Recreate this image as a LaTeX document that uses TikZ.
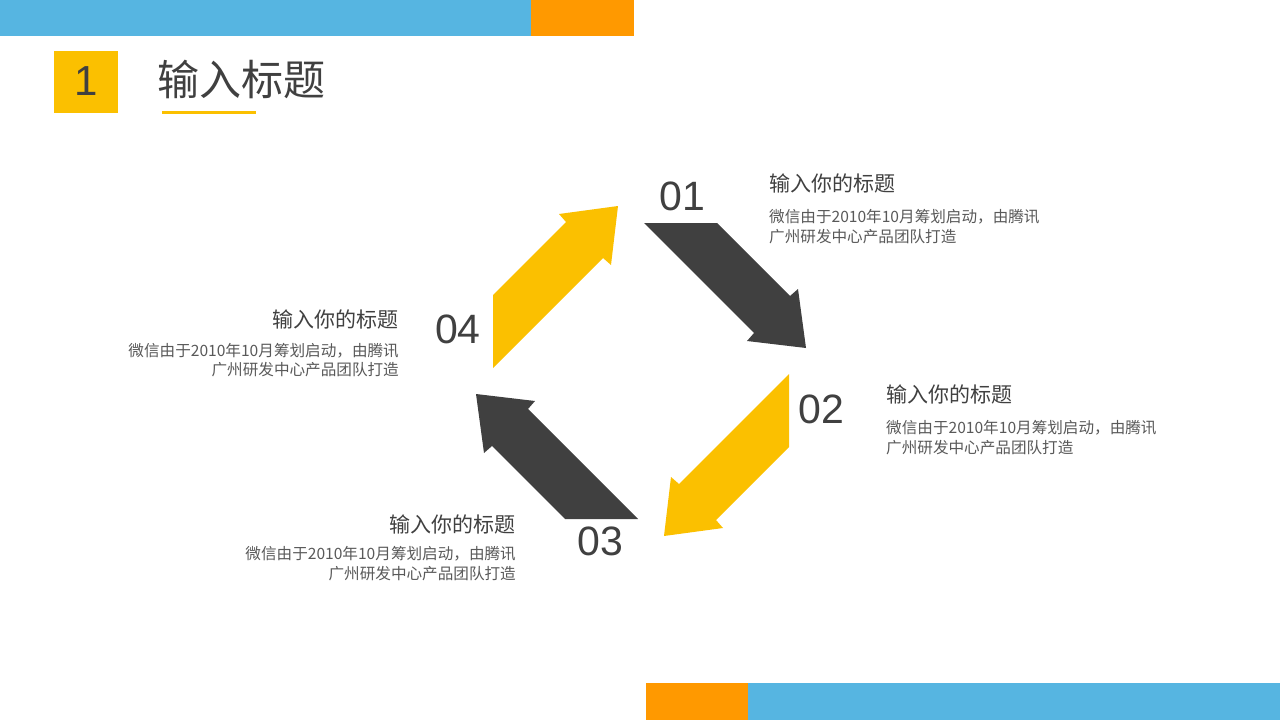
\documentclass[tikz,border=0pt]{standalone}
\usepackage{fontspec}
\setmainfont{Liberation Sans}
\newfontfamily\cjk{Noto Sans CJK SC}
\definecolor{topblue}{HTML}{56B5E1}
\definecolor{toporange}{HTML}{FF9900}
\definecolor{ayellow}{HTML}{FBC000}
\definecolor{adark}{HTML}{404040}
\definecolor{tgray}{HTML}{595959}
\newcommand\cyclearrow[2]{%
  \fill[#2, shift={(641,371)}, rotate=#1]
    (3,-148) -- (76,-148) -- (149,-75) -- (157,-82) -- (165,-23)
    -- (106,-30) -- (113,-38) -- cycle;}
\tikzset{
  num/.style={text=adark, inner sep=0pt, font=\fontsize{41}{41}\selectfont},
  htitle/.style={text=adark, inner sep=0pt, font=\cjk\fontsize{21}{22}\selectfont},
  hbody/.style={text=tgray, inner sep=0pt, font=\cjk\fontsize{15.6}{17}\selectfont},
}
\begin{document}
\begin{tikzpicture}[x=1pt,y=-1pt]
\useasboundingbox (0,0) rectangle (1280,720);
\fill[white] (0,0) rectangle (1280,720);
% bars
\fill[topblue] (0,0) rectangle (531,36);
\fill[toporange] (531,0) rectangle (634,36);
\fill[toporange] (646,683) rectangle (748,720);
\fill[topblue] (748,683) rectangle (1280,720);
% heading
\node[fill=ayellow, minimum width=64pt, minimum height=62pt, inner sep=0pt] (sq) at (86,82) {};
\node[num, font=\fontsize{42}{42}\selectfont] (sqn) at (86,81) {1};
\node[text=adark, inner sep=0pt, anchor=west, font=\cjk\fontsize{42}{42}\selectfont] (head) at (157,79) {输入标题};
\draw[ayellow, line width=3pt] (162,112) -- (256,112);
% arrows
\cyclearrow{0}{adark}
\cyclearrow{-90}{ayellow}
\cyclearrow{-180}{adark}
\cyclearrow{-270}{ayellow}
% numbers
\node[num] (n1) at (682,196) {01};
\node[num] (n2) at (821,409) {02};
\node[num] (n3) at (600,541) {03};
\node[num] (n4) at (458,329) {04};
% block 1
\node[htitle, anchor=west] (t1) at (769,183) {输入你的标题};
\node[hbody, anchor=west] (b1a) at (769,217) {微信由于2010年10月筹划启动，由腾讯};
\node[hbody, anchor=west] (b1b) at (769,237) {广州研发中心产品团队打造};
% block 2
\node[htitle, anchor=west] (t2) at (886,394) {输入你的标题};
\node[hbody, anchor=west] (b2a) at (886,428) {微信由于2010年10月筹划启动，由腾讯};
\node[hbody, anchor=west] (b2b) at (886,448) {广州研发中心产品团队打造};
% block 3
\node[htitle, anchor=east] (t3) at (516,524) {输入你的标题};
\node[hbody, anchor=east] (b3a) at (516,554) {微信由于2010年10月筹划启动，由腾讯};
\node[hbody, anchor=east] (b3b) at (516,574) {广州研发中心产品团队打造};
% block 4
\node[htitle, anchor=east] (t4) at (399,319) {输入你的标题};
\node[hbody, anchor=east] (b4a) at (399,351) {微信由于2010年10月筹划启动，由腾讯};
\node[hbody, anchor=east] (b4b) at (399,370) {广州研发中心产品团队打造};
\end{tikzpicture}
\end{document}
